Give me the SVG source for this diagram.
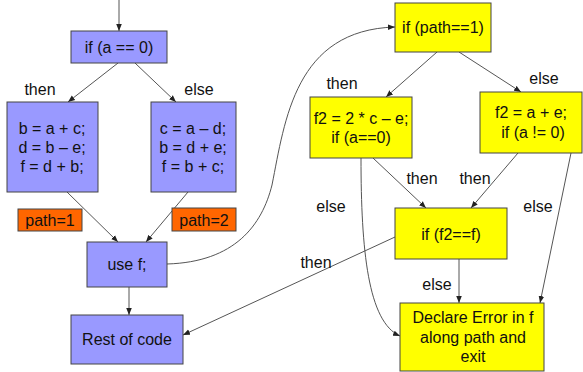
<svg xmlns="http://www.w3.org/2000/svg" width="583" height="372" viewBox="0 0 583 372">
<defs>
<marker id="ah" viewBox="0 0 10 10" refX="10" refY="5" markerWidth="7" markerHeight="7" orient="auto-start-reverse" markerUnits="userSpaceOnUse">
<path d="M0,1 L10,5 L0,9 z" fill="#222"/>
</marker>
<style>
.b{fill:#9999ff;stroke:#444;stroke-width:1}
.y{fill:#ffff00;stroke:#444;stroke-width:1}
.o{fill:#ff6600;stroke:#444;stroke-width:1}
text{font-family:"Liberation Sans",Arial,sans-serif;font-size:16px;fill:#111;text-anchor:middle}
.c{fill:none;stroke:#555;stroke-width:1;marker-end:url(#ah)}
.n{fill:none;stroke:#555;stroke-width:1}
</style>
</defs>
<rect width="583" height="372" fill="#fff"/>
<g id="connectors">
<path class="c" d="M119,0 L119,31"/>
<path class="c" d="M118,63 L68,102"/>
<path class="c" d="M135,63 L176,102"/>
<path class="c" d="M67,192 L118,242"/>
<path class="c" d="M188,192 L146,242"/>
<path class="c" d="M129,287 L129,315"/>
<path class="c" d="M167,264 C235,262 262,225 272,185 C285,120 295,30 395,27"/>
<path class="c" d="M437,52 L386,97"/>
<path class="c" d="M459,52 L521,92"/>
<path class="c" d="M361,158 C361,250 368,322 400,336"/>
<path class="c" d="M373,158 L426,208"/>
<path class="c" d="M518,153 L471,208"/>
<path class="c" d="M571,153 L540,303"/>
<path class="c" d="M459,259 L459,303"/>
<path class="c" d="M395,237 L183,335"/>
</g>
<g id="labels">
<text x="40" y="95">then</text>
<text x="199" y="95">else</text>
<text x="342" y="89">then</text>
<text x="544" y="84">else</text>
<text x="422" y="184">then</text>
<text x="475" y="184">then</text>
<text x="331" y="212">else</text>
<text x="538" y="212">else</text>
<text x="316" y="268">then</text>
<text x="437" y="290">else</text>
</g>
<g id="n_if_a">
<rect class="b" x="71" y="31" width="96" height="32"/>
<text x="119" y="53">if (a == 0)</text>
</g>
<g id="n_then">
<rect class="b" x="7" y="102" width="91" height="90"/>
<text x="52" y="134">b = a + c;</text>
<text x="52" y="153">d = b – e;</text>
<text x="52" y="172">f = d + b;</text>
</g>
<g id="n_else">
<rect class="b" x="151" y="102" width="85" height="90"/>
<text x="193" y="134">c = a – d;</text>
<text x="193" y="153">b = d + e;</text>
<text x="193" y="172">f = b + c;</text>
</g>
<g id="n_path1">
<rect class="o" x="18" y="209" width="64" height="22"/>
<text x="50" y="226">path=1</text>
</g>
<g id="n_path2">
<rect class="o" x="172" y="208" width="64" height="23"/>
<text x="204" y="226">path=2</text>
</g>
<g id="n_use">
<rect class="b" x="87" y="242" width="80" height="45"/>
<text x="127" y="270">use f;</text>
</g>
<g id="n_rest">
<rect class="b" x="71" y="315" width="112" height="49"/>
<text x="127" y="345">Rest of code</text>
</g>
<g id="n_ifpath">
<rect class="y" x="395" y="3" width="96" height="49"/>
<text x="443" y="33">if (path==1)</text>
</g>
<g id="n_f2a">
<rect class="y" x="310" y="97" width="102" height="61"/>
<text x="361" y="124">f2 = 2 * c – e;</text>
<text x="361" y="143">if (a==0)</text>
</g>
<g id="n_f2b">
<rect class="y" x="480" y="92" width="102" height="61"/>
<text x="531" y="118">f2 = a + e;</text>
<text x="533" y="138">if (a != 0)</text>
</g>
<g id="n_iff2">
<rect class="y" x="395" y="208" width="112" height="51"/>
<text x="451" y="240">if (f2==f)</text>
</g>
<g id="n_err">
<rect class="y" x="400" y="303" width="144" height="68"/>
<text x="473" y="323">Declare Error in f</text>
<text x="473" y="343">along path and</text>
<text x="473" y="362">exit</text>
</g>
</svg>
